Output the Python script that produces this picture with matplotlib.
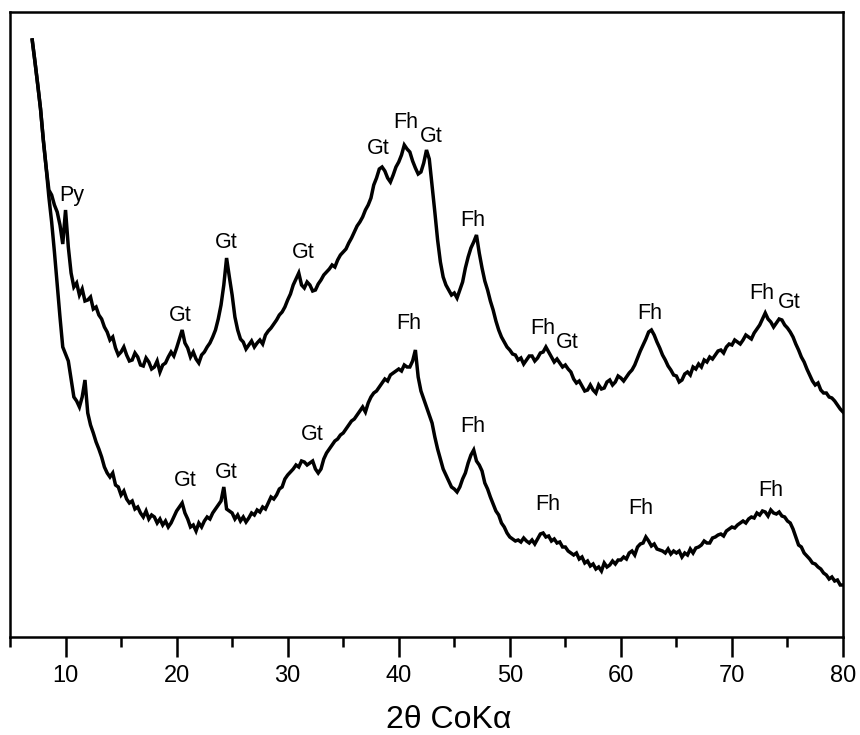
"""
XRD patterns of two samples (Fh = ferrihydrite, Gt = goethite, Py = pyrite)
"""

import matplotlib
matplotlib.use("Agg")
import matplotlib.pyplot as plt
import numpy as np
from matplotlib.ticker import MultipleLocator

plt.rcParams['font.family'] = ['Liberation Sans', 'DejaVu Sans']

# 2-theta grid: 7.0 .. 80.0 deg, 0.25 deg step (one row = one degree)
theta_start = 7.0
theta_step = 0.25

# upper pattern, intensity in arbitrary units
upper = [
    597, 575, 552, 528,   # 7
    497, 470, 447, 442,   # 8
    432, 425, 412, 393,   # 9
    427, 390, 364, 350,   # 10
    354, 342, 348, 336,   # 11
    337, 340, 328, 330,   # 12
    322, 318, 310, 305,   # 13
    297, 300, 289, 282,   # 14
    285, 290, 282, 276,   # 15
    277, 284, 280, 272,   # 16
    271, 279, 275, 268,   # 17
    270, 276, 265, 272,   # 18
    274, 280, 285, 281,   # 19
    289, 298, 307, 294,   # 20
    289, 280, 285, 278,   # 21
    274, 282, 285, 290,   # 22
    294, 300, 307, 318,   # 23
    332, 352, 379, 360,   # 24
    342, 320, 307, 298,   # 25
    295, 288, 292, 296,   # 26
    290, 294, 297, 293,   # 27
    302, 306, 309, 313,   # 28
    317, 322, 325, 330,   # 29
    337, 343, 352, 358,   # 30
    364, 352, 349, 355,   # 31
    352, 346, 347, 353,   # 32
    357, 362, 365, 368,   # 33
    372, 370, 377, 382,   # 34
    385, 388, 394, 399,   # 35
    405, 411, 415, 420,   # 36
    427, 432, 439, 452,   # 37
    459, 468, 470, 466,   # 38
    459, 455, 462, 470,   # 39
    475, 482, 492, 488,   # 40
    485, 476, 469, 463,   # 41
    465, 474, 487, 478,   # 42
    452, 425, 397, 375,   # 43
    360, 352, 347, 342,   # 44
    344, 339, 347, 355,   # 45
    369, 380, 389, 395,   # 46
    402, 384, 369, 356,   # 47
    347, 336, 327, 316,   # 48
    307, 300, 295, 290,   # 49
    287, 283, 282, 277,   # 50
    279, 273, 277, 281,   # 51
    281, 276, 279, 284,   # 52
    285, 290, 285, 280,   # 53
    275, 278, 274, 270,   # 54
    272, 268, 265, 258,   # 55
    254, 256, 251, 246,   # 56
    247, 252, 247, 244,   # 57
    252, 248, 249, 255,   # 58
    257, 252, 255, 261,   # 59
    259, 256, 260, 264,   # 60
    267, 272, 279, 286,   # 61
    292, 298, 305, 307,   # 62
    302, 295, 289, 282,   # 63
    277, 271, 267, 262,   # 64
    261, 255, 257, 263,   # 65
    265, 262, 270, 268,   # 66
    273, 270, 277, 275,   # 67
    280, 278, 282, 286,   # 68
    287, 284, 290, 293,   # 69
    292, 297, 295, 293,   # 70
    297, 302, 300, 298,   # 71
    304, 308, 312, 318,   # 72
    324, 318, 315, 310,   # 73
    314, 318, 317, 312,   # 74
    309, 305, 300, 293,   # 75
    287, 280, 275, 268,   # 76
    262, 256, 252, 254,   # 77
    247, 244, 244, 240,   # 78
    239, 236, 232, 228,   # 79
    225,                  # 80
]

# lower pattern
lower = [
    597, 575, 552, 528,   # 7
    497, 470, 440, 415,   # 8
    385, 352, 320, 290,   # 9
    283, 276, 258, 240,   # 10
    236, 230, 240, 257,   # 11
    224, 212, 204, 195,   # 12
    188, 180, 170, 164,   # 13
    160, 164, 152, 150,   # 14
    142, 146, 138, 134,   # 15
    136, 128, 130, 124,   # 16
    120, 126, 118, 122,   # 17
    120, 114, 118, 112,   # 18
    116, 110, 114, 120,   # 19
    126, 130, 134, 124,   # 20
    118, 110, 112, 106,   # 21
    114, 110, 116, 120,   # 22
    118, 124, 128, 132,   # 23
    136, 150, 128, 126,   # 24
    124, 118, 122, 116,   # 25
    120, 115, 119, 124,   # 26
    122, 127, 125, 130,   # 27
    128, 134, 140, 138,   # 28
    142, 148, 150, 158,   # 29
    162, 165, 168, 172,   # 30
    170, 176, 175, 172,   # 31
    174, 176, 168, 164,   # 32
    168, 178, 184, 188,   # 33
    192, 196, 198, 202,   # 34
    204, 208, 212, 216,   # 35
    218, 222, 226, 230,   # 36
    225, 234, 240, 244,   # 37
    246, 250, 254, 258,   # 38
    256, 262, 264, 266,   # 39
    268, 266, 272, 270,   # 40
    270, 276, 287, 260,   # 41
    246, 238, 230, 222,   # 42
    214, 200, 188, 178,   # 43
    168, 162, 156, 150,   # 44
    148, 145, 150, 158,   # 45
    164, 174, 182, 187,   # 46
    176, 172, 166, 154,   # 47
    148, 140, 133, 126,   # 48
    122, 114, 110, 104,   # 49
    100, 98, 96, 97,      # 50
    95, 99, 96, 94,       # 51
    97, 93, 98, 103,      # 52
    104, 100, 101, 96,    # 53
    98, 94, 95, 90,       # 54
    90, 86, 84, 82,       # 55
    84, 78, 80, 74,       # 56
    76, 71, 73, 68,       # 57
    70, 66, 74, 70,       # 58
    72, 76, 73, 77,       # 59
    77, 80, 78, 84,       # 60
    86, 82, 90, 93,       # 61
    94, 100, 96, 91,      # 62
    93, 88, 87, 86,       # 63
    84, 88, 83, 86,       # 64
    84, 86, 80, 84,       # 65
    82, 88, 84, 89,       # 66
    90, 92, 96, 94,       # 67
    94, 99, 100, 102,     # 68
    103, 101, 106, 108,   # 69
    110, 109, 112, 114,   # 70
    116, 114, 118, 120,   # 71
    119, 124, 122, 126,   # 72
    125, 121, 127, 124,   # 73
    123, 125, 121, 120,   # 74
    116, 114, 108, 100,   # 75
    92, 90, 84, 81,       # 76
    78, 74, 73, 70,       # 77
    68, 64, 62, 58,       # 78
    60, 56, 57, 52,       # 79
    52,                   # 80
]

# phase labels: text, 2-theta, height
upper_tags = ['Py', 'Gt', 'Gt', 'Gt', 'Gt', 'Fh', 'Gt', 'Fh', 'Fh', 'Gt', 'Fh', 'Fh', 'Gt']
upper_tag_x = [10.6, 20.3, 24.5, 31.4, 38.2, 40.6, 42.9, 46.7, 53.0, 55.2, 62.6, 72.7, 75.2]
upper_tag_y = [441, 322, 395, 385, 489, 515, 500, 417, 309, 295, 324, 344, 335]

lower_tags = ['Gt', 'Gt', 'Gt', 'Fh', 'Fh', 'Fh', 'Fh', 'Fh']
lower_tag_x = [20.8, 24.5, 32.2, 40.9, 46.7, 53.4, 61.8, 73.5]
lower_tag_y = [157, 165, 202, 314, 210, 132, 129, 147]

x_ticks = [10, 20, 30, 40, 50, 60, 70, 80]

fig = plt.figure(figsize=(8.6, 7.35), dpi=100)
ax = fig.add_axes([10 / 860, (735 - 637) / 735, 833 / 860, 625 / 735])

tt_up = theta_start + theta_step * np.arange(len(upper))
tt_lo = theta_start + theta_step * np.arange(len(lower))
ax.plot(tt_up, upper, color='black', lw=2.5, solid_joinstyle='miter')
ax.plot(tt_lo, lower, color='black', lw=2.5, solid_joinstyle='miter')

for t, x, y in zip(upper_tags, upper_tag_x, upper_tag_y):
    ax.text(x, y, t, ha='center', va='center', fontsize=15.5)
for t, x, y in zip(lower_tags, lower_tag_x, lower_tag_y):
    ax.text(x, y, t, ha='center', va='center', fontsize=15.5)

ax.set_xlim(5, 80)
ax.set_ylim(0, 625)
ax.set_xticks(x_ticks)
ax.xaxis.set_minor_locator(MultipleLocator(5))
ax.set_yticks([])
ax.tick_params(axis='x', which='major', direction='out', length=14.5, width=1.8,
               pad=5.5, labelsize=17)
ax.tick_params(axis='x', which='minor', direction='out', length=7.5, width=1.8)
for sp in ax.spines.values():
    sp.set_linewidth(1.8)

ax.set_xlabel('2θ CoKα', fontsize=23)
ax.xaxis.set_label_coords(0.527, -0.109)

plt.savefig('out.png', dpi=100)
plt.close(fig)
